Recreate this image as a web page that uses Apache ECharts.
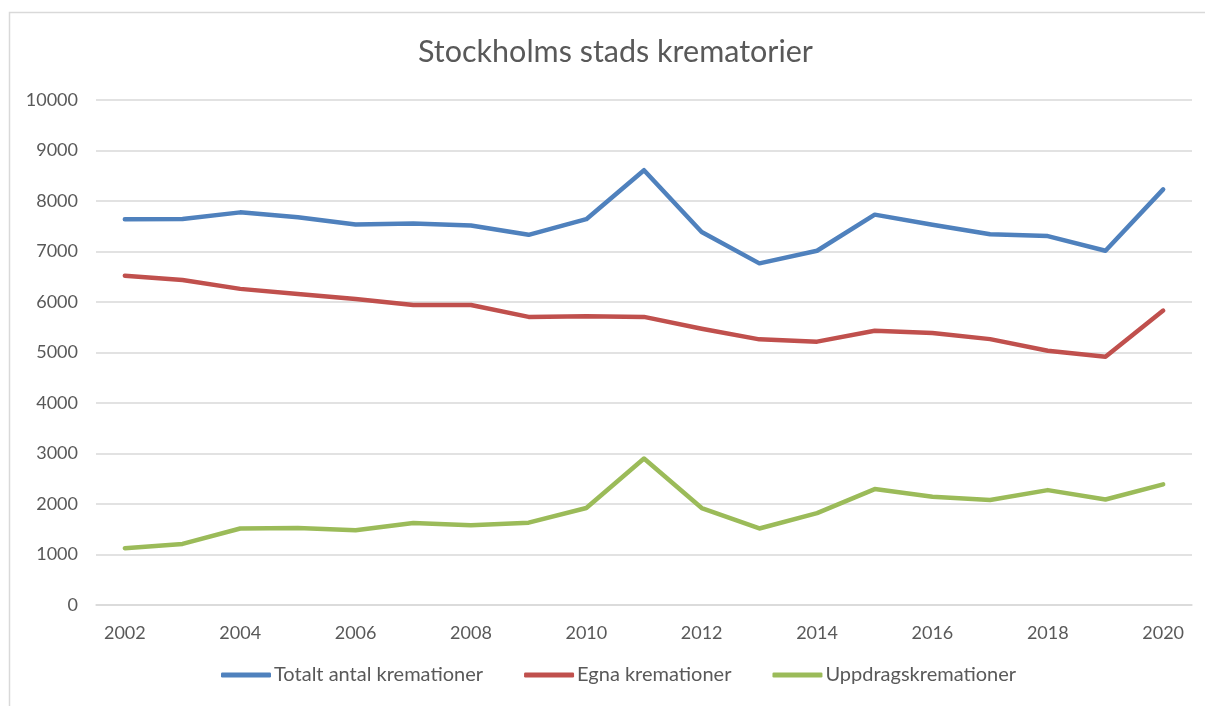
<!DOCTYPE html>
<html>
<head>
<meta charset="utf-8">
<script src="https://cdn.jsdelivr.net/npm/echarts@6/dist/echarts.min.js"></script>
<style>
    html, body { margin: 0; padding: 0; background: #fff; }
    #chart { width: 1205px; height: 706px; }
</style>
</head>
<body>
<div id="chart"></div>
<script>
// data
const years = ["2002", "2003", "2004", "2005", "2006", "2007", "2008", "2009", "2010", "2011",
    "2012", "2013", "2014", "2015", "2016", "2017", "2018", "2019", "2020"];
const totalt = [7640, 7645, 7775, 7680, 7535, 7555, 7515, 7330, 7640, 8610,
    7385, 6765, 7015, 7730, 7530, 7340, 7305, 7015, 8230];
const egna = [6520, 6435, 6260, 6160, 6060, 5940, 5940, 5705, 5720, 5705,
    5470, 5260, 5215, 5430, 5385, 5265, 5035, 4915, 5830];
const uppdrag = [1125, 1210, 1515, 1525, 1480, 1625, 1580, 1630, 1920, 2900,
    1920, 1515, 1820, 2295, 2145, 2080, 2275, 2090, 2390];
const nameList = ["Totalt antal kremationer", "Egna kremationer", "Uppdragskremationer"];
const colorList = ["#4f81bd", "#c0504d", "#9bbb59"];

const font = "Lato, 'Open Sans', sans-serif";
const textColor = "#595959";
const gridColor = "#d9d9d9";

let option = {
    color: colorList,
    animation: false,
    title: {
        text: "Stockholms stads krematorier",
        left: 413,
        top: 32,
        textStyle: {
            fontFamily: font,
            fontSize: 30.5,
            fontWeight: "normal",
            color: textColor,
        },
    },
    legend: {
        bottom: 16,
        left: 216,
        icon: "roundRect",
        itemWidth: 50,
        itemHeight: 5,
        itemGap: 41,
        textStyle: {
            fontFamily: font,
            fontSize: 20,
            color: textColor,
            padding: [0, 0, 0, -2],
        },
        data: nameList,
    },
    grid: {
        left: 96,
        right: 13,
        top: 100,
        bottom: 101,
        containLabel: false,
    },
    graphic: [
        {
            type: "rect",
            shape: { x: 9.5, y: 12.5, width: 1300, height: 800 },
            style: { fill: "none", stroke: gridColor, lineWidth: 1.5 },
            silent: true,
        },
    ],
    xAxis: {
        type: "category",
        data: years,
        boundaryGap: true,
        axisLine: { show: true, lineStyle: { color: gridColor, width: 1.5 } },
        axisTick: { show: false },
        axisLabel: {
            interval: 1,
            margin: 19,
            fontFamily: font,
            fontSize: 18,
            color: textColor,
        },
    },
    yAxis: {
        type: "value",
        min: 0,
        max: 10000,
        interval: 1000,
        axisLine: { show: false },
        axisTick: { show: false },
        axisLabel: {
            margin: 18,
            fontFamily: font,
            fontSize: 18,
            color: textColor,
            formatter: (v) => String(v),
        },
        splitLine: { lineStyle: { color: gridColor, width: 1.5 } },
    },
    series: [],
};

const seriesFn = (name, dataList, color) => {
    option.series.push({
        name: name,
        type: "line",
        data: dataList,
        symbol: "none",
        smooth: false,
        lineStyle: { width: 4.5, color: color, cap: "round", join: "round" },
        itemStyle: { color: color },
    });
};

seriesFn(nameList[0], totalt, colorList[0]);
seriesFn(nameList[1], egna, colorList[1]);
seriesFn(nameList[2], uppdrag, colorList[2]);

let myChart = echarts.init(document.getElementById("chart"));
myChart.setOption(option);
</script>
</body>
</html>
